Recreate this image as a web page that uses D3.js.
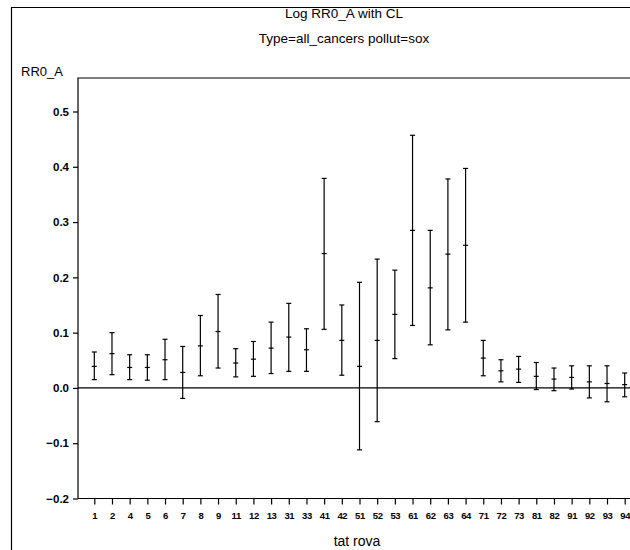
<!DOCTYPE html>
<html>
<head>
<meta charset="utf-8">
<script src="https://cdn.jsdelivr.net/npm/d3@7"></script>
<style>
  html, body { margin: 0; padding: 0; background: #fff; }
  svg { display: block; }
  text { font-family: "Liberation Sans", Arial, sans-serif; fill: #000; }
</style>
</head>
<body>
<svg id="chart" width="630" height="550"></svg>
<script>
// ---- data ----
const categories = ["1","2","4","5","6","7","8","9","11","12","13","31","33","41","42","51","52","53","61","62","63","64","71","72","73","81","82","91","92","93","94"];
const estimate = [0.039,0.062,0.037,0.037,0.051,0.028,0.076,0.102,0.045,0.052,0.072,0.092,0.069,0.243,0.086,0.039,0.086,0.133,0.285,0.181,0.242,0.258,0.054,0.031,0.034,0.021,0.016,0.019,0.011,0.008,0.006];
const lower    = [0.015,0.024,0.015,0.014,0.015,-0.019,0.022,0.036,0.020,0.021,0.026,0.030,0.030,0.106,0.023,-0.112,-0.061,0.053,0.113,0.078,0.105,0.119,0.022,0.011,0.010,-0.003,-0.005,-0.002,-0.018,-0.025,-0.016];
const upper    = [0.065,0.100,0.060,0.060,0.088,0.075,0.131,0.169,0.071,0.084,0.119,0.153,0.107,0.379,0.150,0.191,0.233,0.213,0.457,0.285,0.378,0.397,0.086,0.051,0.057,0.046,0.036,0.040,0.040,0.040,0.027];
const yTicks = [-0.2,-0.1,0.0,0.1,0.2,0.3,0.4,0.5];
const titleLines = ["Log RR0_A with CL", "Type=all_cancers pollut=sox"];
const yLabel = "RR0_A";
const xLabel = "tat rova";

// ---- layout ----
const svg = d3.select("#chart");
const plotLeft = 78, plotTop = 78, plotRight = 640;
const x = d3.scalePoint().domain(categories).range([94.3, 624.7]);
const y = d3.scaleLinear().domain([-0.2, 0.5]).range([498.5, 111.5]);
const plotBottom = y(-0.2);

// outer frame
svg.append("path")
  .attr("d", `M11.5,560 V7.5 H640`)
  .attr("fill", "none").attr("stroke", "#000").attr("stroke-width", 1.2);

// titles
svg.selectAll("text.title").data(titleLines).enter().append("text")
  .attr("class", "title")
  .attr("x", 344).attr("y", (d, i) => 18 + i * 25)
  .attr("text-anchor", "middle").attr("font-size", 13.5)
  .text(d => d);

// y label
svg.append("text").attr("x", 21).attr("y", 76).attr("font-size", 13).text(yLabel);

// plot frame: left and top
svg.append("path")
  .attr("d", `M${plotLeft},${plotBottom} V${plotTop} H${plotRight}`)
  .attr("fill", "none").attr("stroke", "#000").attr("stroke-width", 1.2);

// y axis
const yAxis = d3.axisLeft(y).tickValues(yTicks).tickSize(5).tickSizeOuter(0)
  .tickFormat(d => d3.format(".1f")(d).replace("-", "\u2212"));
const gy = svg.append("g").attr("transform", `translate(${plotLeft},0)`).call(yAxis);
gy.select(".domain").remove();
gy.selectAll("line").attr("stroke", "#000").attr("stroke-width", 1.2);
gy.selectAll("text").attr("font-size", 11.5).attr("font-weight", "bold")
  .attr("font-family", "Liberation Sans, Arial, sans-serif").attr("dx", -1);

// x axis
const xAxis = d3.axisBottom(x).tickSize(6).tickSizeOuter(0);
const gx = svg.append("g").attr("transform", `translate(0,${plotBottom})`).call(xAxis);
gx.select(".domain").remove();
gx.append("line").attr("x1", plotLeft).attr("x2", plotRight).attr("stroke", "#000").attr("stroke-width", 1.2);
gx.selectAll(".tick line").attr("stroke", "#000").attr("stroke-width", 1.2);
gx.selectAll(".tick text").attr("font-size", 9.5).attr("font-weight", "bold")
  .attr("font-family", "Liberation Sans, Arial, sans-serif").attr("dy", "1.25em").attr("letter-spacing", -0.4);

// x label
svg.append("text").attr("x", 357).attr("y", 546).attr("text-anchor", "middle")
  .attr("font-size", 14).text(xLabel);

// zero reference line
svg.append("line").attr("x1", plotLeft).attr("x2", plotRight)
  .attr("y1", y(0)).attr("y2", y(0)).attr("stroke", "#000").attr("stroke-width", 1.2);

// error bars
const rows = categories.map((c, i) => ({c, est: estimate[i], lo: lower[i], hi: upper[i]}));
const cap = 2.5;
const g = svg.append("g").attr("stroke", "#000").attr("stroke-width", 1.2).attr("fill", "none");
const bars = g.selectAll("g.bar").data(rows).enter().append("g").attr("class", "bar");
bars.append("line").attr("x1", d => x(d.c)).attr("x2", d => x(d.c))
  .attr("y1", d => y(d.lo)).attr("y2", d => y(d.hi));
bars.append("line").attr("x1", d => x(d.c) - cap).attr("x2", d => x(d.c) + cap)
  .attr("y1", d => y(d.lo)).attr("y2", d => y(d.lo));
bars.append("line").attr("x1", d => x(d.c) - cap).attr("x2", d => x(d.c) + cap)
  .attr("y1", d => y(d.hi)).attr("y2", d => y(d.hi));
bars.append("line").attr("x1", d => x(d.c) - cap).attr("x2", d => x(d.c) + cap)
  .attr("y1", d => y(d.est)).attr("y2", d => y(d.est));
</script>
</body>
</html>
